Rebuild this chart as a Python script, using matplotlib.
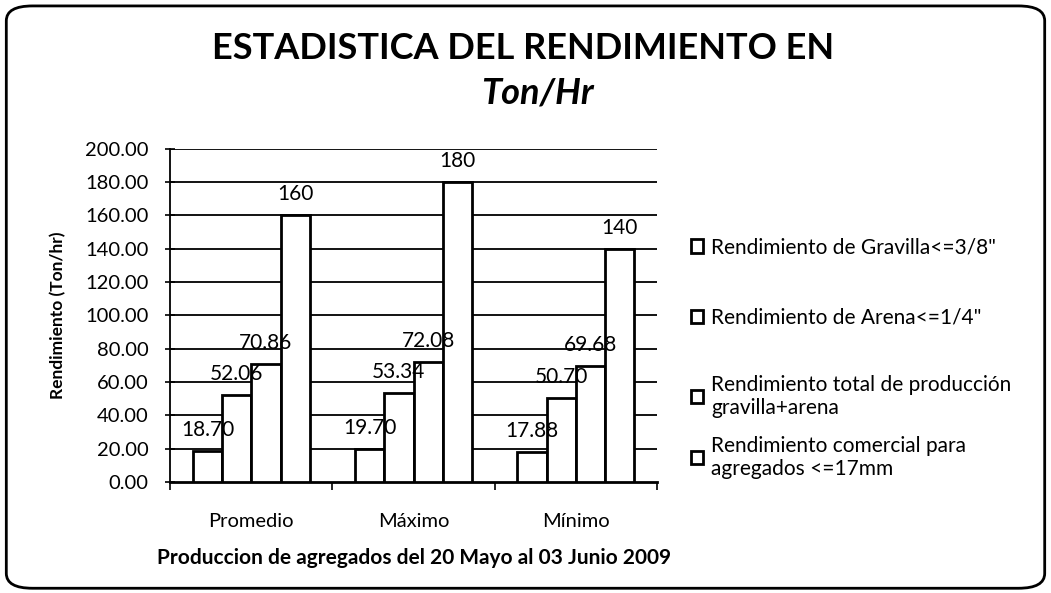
import numpy as np
import matplotlib.pyplot as plt
from matplotlib.patches import FancyBboxPatch

plt.rcParams["font.family"] = ["Lato", "DejaVu Sans"]

# data
categories = ["Promedio", "Máximo", "Mínimo"]
gravilla = [18.70, 19.70, 17.88]
arena = [52.06, 53.34, 50.70]
total = [70.86, 72.08, 69.68]
comercial = [160, 180, 140]
series_labels = [
    'Rendimiento de Gravilla<=3/8"',
    'Rendimiento de Arena<=1/4"',
    "Rendimiento total de producción\ngravilla+arena",
    "Rendimiento comercial para\nagregados <=17mm",
]
yticks = [0, 20, 40, 60, 80, 100, 120, 140, 160, 180, 200]

fig = plt.figure(figsize=(10.51, 5.93), dpi=100)
ax = fig.add_axes([0.162, 0.187, 0.463, 0.562])

# rounded frame around the whole chart
frame = FancyBboxPatch(
    (0.006, 0.008), 0.988, 0.982,
    boxstyle="round,pad=0,rounding_size=0.025",
    transform=fig.transFigure, facecolor="none",
    edgecolor="black", linewidth=2, zorder=0,
)
fig.patches.append(frame)

index = np.arange(len(categories))
bar_width = 0.18
all_series = [gravilla, arena, total, comercial]
formats = ["%.2f", "%.2f", "%.2f", "%d"]
handles = []
for k, (vals, lab, fmt) in enumerate(zip(all_series, series_labels, formats)):
    bars = ax.bar(
        index + (k - 1.5) * bar_width,
        vals,
        bar_width,
        color="white",
        edgecolor="black",
        linewidth=2,
        label=lab,
        zorder=3,
    )
    ax.bar_label(bars, fmt=fmt, padding=8, fontsize=15, zorder=4)
    handles.append(bars)

ax.set_ylim(0, 200)
ax.set_xlim(-0.5, 2.5)
ax.set_yticks(yticks)
ax.set_yticklabels(["%.2f" % v for v in yticks], fontsize=14.5)
for y in yticks[1:]:
    ax.axhline(y, color="black", linewidth=1.3, zorder=1)

ax.set_xticks(index)
ax.set_xticklabels(categories, fontsize=14.5)
ax.set_xticks([-0.5, 0.5, 1.5, 2.5], minor=True)
ax.tick_params(axis="x", which="major", length=0, pad=22)
ax.tick_params(axis="x", which="minor", length=6, width=1.2, direction="out")
ax.tick_params(axis="y", length=7, width=1.2, direction="inout", pad=12)

ax.spines["top"].set_visible(False)
ax.spines["right"].set_visible(False)
ax.spines["left"].set_linewidth(1.3)
ax.spines["bottom"].set_linewidth(2)

ax.set_ylabel("Rendimiento (Ton/hr)", fontsize=12.5, fontweight="bold", labelpad=14)
ax.set_xlabel(
    "Produccion de agregados del 20 Mayo al 03 Junio 2009",
    fontsize=15, fontweight="bold", labelpad=13,
)

fig.text(0.498, 0.919, "ESTADISTICA DEL RENDIMIENTO EN", ha="center", va="center",
         fontsize=26, fontweight="bold")
fig.text(0.511, 0.843, "Ton/Hr", ha="center", va="center",
         fontsize=26, fontweight="bold", style="italic")

# legend entries placed one by one, as in the original layout
legend_y = [0.583, 0.464, 0.332, 0.229]
for h, lab, ly in zip(handles, series_labels, legend_y):
    fig.legend(
        handles=[h],
        labels=[lab],
        loc="center left",
        bbox_to_anchor=(0.657, ly),
        frameon=False,
        fontsize=15,
        borderpad=0,
        borderaxespad=0,
        handlelength=0.6,
        handleheight=0.6,
        handletextpad=0.4,
    )

plt.savefig("out.png", dpi=100)
